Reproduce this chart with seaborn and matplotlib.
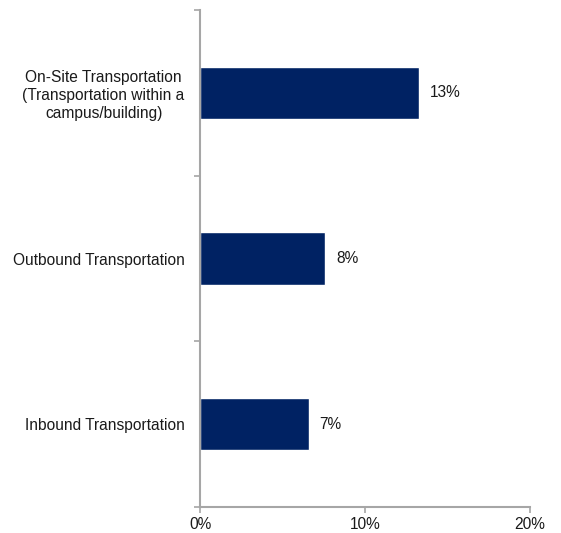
import matplotlib
matplotlib.use("Agg")
import matplotlib.pyplot as plt
import seaborn as sns
import pandas as pd
import numpy as np

categories = ["On-Site Transportation\n(Transportation within a\ncampus/building)",
              "Outbound Transportation",
              "Inbound Transportation"]
values = [13.3, 7.6, 6.6]
xtick_labels = ["0%", "10%", "20%"]

sns.set_theme(style="white")
plt.rcParams['font.family'] = ['Liberation Sans', 'DejaVu Sans']

df = pd.DataFrame({"category": categories, "value": values})

fig = plt.figure(figsize=(5.61, 5.33), dpi=100)
ax = fig.add_axes([200/561, 1-507/533, 330/561, 497/533])

sns.barplot(data=df, y="category", x="value", orient="h", color="#002263",
            width=0.314, saturation=1, ax=ax)

ax.set_xlim(0, 20)
ax.set_ylim(2.5, -0.5)
ax.set_xticks([0, 10, 20])
ax.set_xticklabels(xtick_labels, fontsize=11.2, color="#1a1a1a")
ax.set_ylabel("")
ax.set_xlabel("")
ax.tick_params(axis="y", which="major", left=True, length=0, pad=11,
               labelsize=11.2, labelcolor="#1a1a1a")
ax.set_yticks([-0.5, 0.5, 1.5, 2.5], minor=True)
ax.tick_params(axis="y", which="minor", left=True, length=4, width=1.2,
               color="#A6A6A6", direction="out")
ax.tick_params(axis="x", which="major", bottom=True, length=4, width=1.2,
               color="#A6A6A6", direction="out", pad=3)
for lab in ax.get_yticklabels():
    lab.set_multialignment("center")
    lab.set_linespacing(1.25)

for s in ["top", "right"]:
    ax.spines[s].set_visible(False)
for s in ["left", "bottom"]:
    ax.spines[s].set_color("#A6A6A6")
    ax.spines[s].set_linewidth(1.5)

for i, v in enumerate(values):
    ax.text(v + 0.65, i, f"{round(v):.0f}%", va="center", ha="left",
            fontsize=11.2, color="#1a1a1a")

fig.savefig("out.png", dpi=100)
